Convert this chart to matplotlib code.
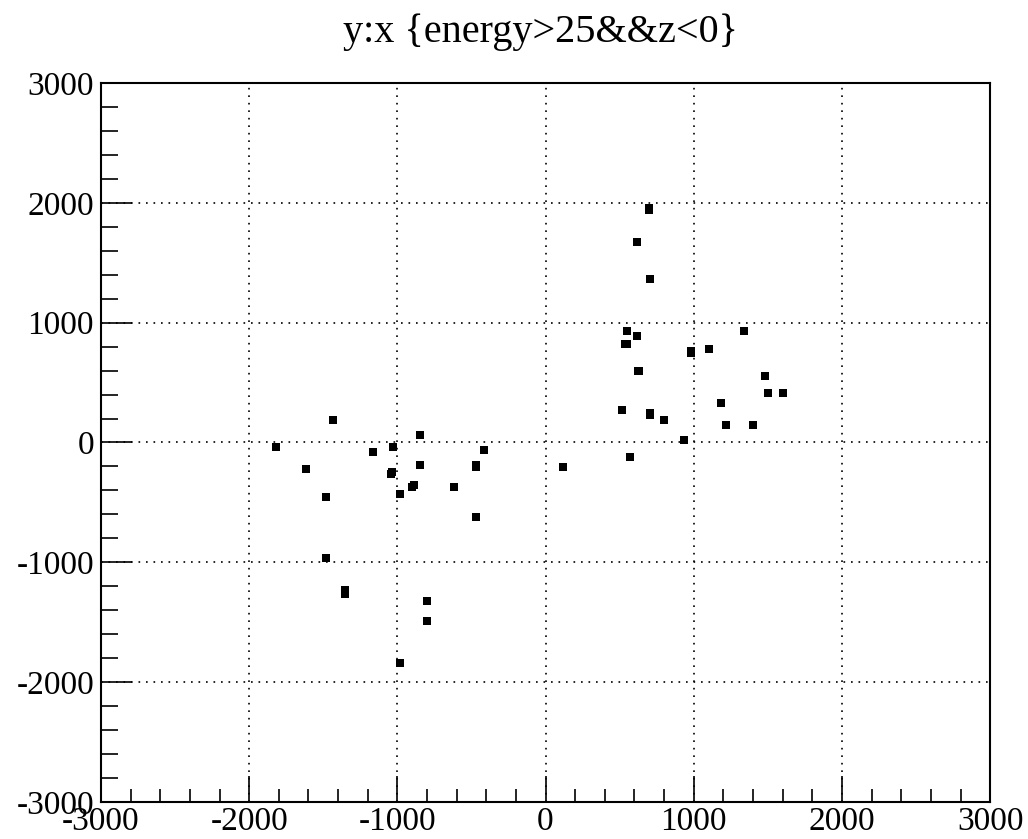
import numpy as np
import matplotlib.pyplot as plt
from matplotlib.ticker import MultipleLocator

plt.rcParams['font.family'] = ['Liberation Serif', 'DejaVu Serif']
plt.rcParams['axes.unicode_minus'] = False

# selected hits, x and y positions
x = [-1433, -1820, -1617, -1482, -1482, -1350, -1350, -1167, -1032, -1045,
     -1033, -983, -983, -848, -848, -900, -888, -617, -799, -799,
     -466, -466, -466, -416,
     697, 700, 616, 702, 551, 616, 535, 548, 983, 983,
     1100, 1336, 622, 630, 1484, 1500, 1601, 1183, 517, 702,
     702, 798, 1219, 1401, 931, 569, 119]
y = [188, -35, -224, -452, -967, -1230, -1265, -82, -35, -262,
     -250, -432, -1838, 63, -188, -370, -357, -371, -1320, -1487,
     -185, -207, -619, -63,
     1940, 1958, 1671, 1362, 931, 889, 825, 825, 745, 762,
     783, 931, 597, 597, 558, 413, 413, 332, 269, 230,
     246, 188, 143, 143, 21, -124, -207]

fig = plt.figure(figsize=(10.28, 8.39), dpi=100)
ax = fig.add_axes([0.0982, 0.0441, 0.865, 0.857])

ax.plot(x, y, linestyle='none', marker='s', markersize=5.5,
        color='black', markeredgewidth=0)

ax.set_xlim(-3000, 3000)
ax.set_ylim(-3000, 3000)
ax.xaxis.set_major_locator(MultipleLocator(1000))
ax.xaxis.set_minor_locator(MultipleLocator(200))
ax.yaxis.set_major_locator(MultipleLocator(1000))
ax.yaxis.set_minor_locator(MultipleLocator(200))

ax.grid(True, which='major', color='black', linestyle=(0, (1, 3.5)), linewidth=1.2)

ax.tick_params(which='both', direction='in', top=False, right=False,
               width=1.2, labelsize=24, colors='black')
ax.tick_params(axis='x', which='major', length=19, pad=3)
ax.tick_params(axis='x', which='minor', length=9.5)
ax.tick_params(axis='y', which='major', length=22, pad=5)
ax.tick_params(axis='y', which='minor', length=12)

for s in ax.spines.values():
    s.set_linewidth(1.5)

fig.text(540 / 1028, 1 - 42 / 839, 'y:x {energy>25&&z<0}', fontsize=29,
         ha='center', va='baseline')

fig.savefig('out.png', dpi=100)
